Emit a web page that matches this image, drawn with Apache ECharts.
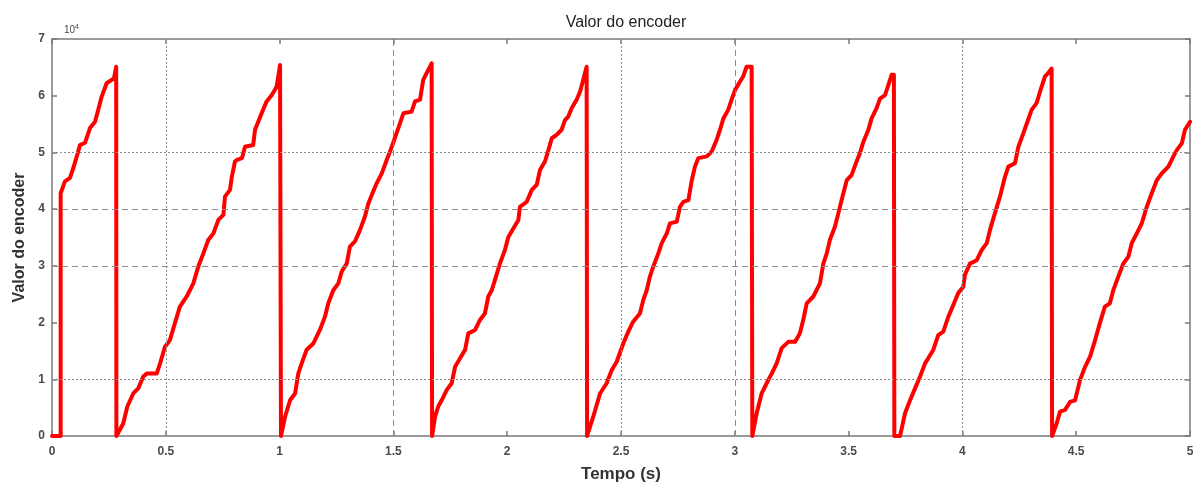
<!DOCTYPE html>
<html><head><meta charset="utf-8">
<script src="https://cdn.jsdelivr.net/npm/echarts@6/dist/echarts.min.js"></script>
<style>html,body{margin:0;padding:0;background:#fff}#c{width:1202px;height:492px}</style>
</head><body><div id="c"></div>
<script>
// time (s) and encoder value pairs
const tempo = [
0,0.038,0.038,0.057,0.079,0.094,0.109,0.123,0.145,0.167,0.189,0.203,0.218,0.240,0.262,0.272,0.282,
0.283,0.313,0.331,0.357,0.379,0.401,0.416,0.460,0.475,0.496,0.518,0.540,0.562,0.592,0.621,0.643,0.665,0.687,0.709,0.731,0.753,0.760,0.782,0.790,0.804,0.813,0.835,0.848,0.884,0.892,0.921,0.943,0.965,0.987,1.002,
1.006,1.024,1.046,1.068,1.082,1.097,1.119,1.148,1.177,1.199,1.214,1.236,1.258,1.273,1.295,1.309,1.331,1.353,1.375,1.390,1.405,1.427,1.449,1.471,1.493,1.514,1.544,1.580,1.595,1.617,1.631,1.646,1.668,
1.670,1.683,1.697,1.712,1.734,1.756,1.771,1.793,1.815,1.829,1.859,1.881,1.902,1.917,1.932,1.946,1.968,1.990,2.005,2.027,2.049,2.056,2.086,2.108,2.130,2.144,2.166,2.181,2.196,2.217,2.239,2.254,2.268,2.283,2.305,2.320,2.334,2.349,
2.351,2.378,2.408,2.437,2.459,2.481,2.510,2.532,2.554,2.583,2.598,2.613,2.627,2.642,2.664,2.679,2.701,2.715,2.745,2.759,2.774,2.796,2.811,2.825,2.840,2.877,2.899,2.920,2.935,2.950,2.971,2.986,3.001,3.023,3.037,3.052,3.074,
3.077,3.096,3.118,3.140,3.162,3.184,3.206,3.235,3.265,3.286,3.301,3.316,3.345,3.374,3.389,3.404,3.418,3.440,3.462,3.477,3.492,3.513,3.535,3.550,3.565,3.587,3.601,3.623,3.638,3.660,3.675,3.689,3.699,
3.701,3.726,3.748,3.770,3.792,3.814,3.836,3.850,3.872,3.894,3.916,3.938,3.960,3.982,4.004,4.011,4.033,4.063,4.085,4.107,4.121,4.143,4.165,4.187,4.202,4.231,4.246,4.268,4.283,4.304,4.326,4.341,4.363,4.377,4.392,
4.394,4.414,4.429,4.451,4.473,4.495,4.517,4.539,4.561,4.583,4.604,4.626,4.648,4.663,4.685,4.707,4.729,4.744,4.766,4.788,4.810,4.832,4.854,4.876,4.905,4.927,4.942,4.964,4.978,5.000
];
const encoder = [
0,0,42800,44900,45500,47300,49300,51300,51700,54300,55400,57500,59800,62200,62800,63000,65100,
0,2200,5200,7500,8400,10500,11000,11000,12800,15700,16900,19900,22800,24600,26900,29900,32200,34600,35700,38100,39000,42200,43400,45700,48400,48700,49000,51000,51300,54000,56900,59000,60100,61600,65400,
0,3400,6300,7500,11000,12800,15200,16300,18700,21000,23400,25700,26900,29000,30400,33400,34300,36300,38700,41000,42500,44600,46300,48700,51000,53400,56900,57200,59000,59300,62800,64000,65700,
0,3400,5200,6300,8100,9300,12200,13700,15200,18100,18700,20500,21600,24600,25700,27500,30400,32800,35100,36600,38100,40400,41300,43400,44300,46900,48400,50400,52500,53100,54000,55700,56300,57800,59300,60700,62800,65100,
0,3400,7500,9300,11600,13100,16300,18400,20200,21600,24000,25700,28100,29900,32200,34000,35700,37500,37800,40400,41300,41600,45100,47500,49000,49300,50200,52200,54000,56000,57500,59300,61000,62500,63400,65100,65100,
0,4000,7500,9300,11000,12800,15500,16600,16600,18100,20500,23400,24600,26900,30400,32200,34600,36900,40400,42800,45100,46000,48400,49900,51900,54000,56000,57800,59500,60100,61900,63700,63700,
0,0,4000,6300,8400,10500,12800,13700,15200,17800,18400,21000,23100,25200,26300,28400,30400,31000,32800,34000,36300,39300,42200,45700,47500,48100,51000,53400,55100,57500,58700,60700,63400,64000,64800,
0,2200,4300,4600,6000,6300,9900,12200,14000,16900,19900,22800,23400,25700,28100,30400,31600,34000,35700,37500,40400,42800,45100,46300,47500,49300,50400,51600,54000,55400
];
const xTicks = [0,0.5,1,1.5,2,2.5,3,3.5,4,4.5,5];
const yTicks = [0,10000,20000,30000,40000,50000,60000,70000];
const yGridDotted = [10000, 50000];
const yGridDashed = [30000, 40000];
const xGridDotted = [0.5, 2.5, 4];
const xGridDashed = [1.5, 3];

const pts = tempo.map((t,i)=>[t, encoder[i]]);
const gridCol = '#8c8c8c';
const ml = [];
yGridDotted.forEach(v=>ml.push({yAxis:v, lineStyle:{type:[2,2],color:gridCol,width:1}}));
yGridDashed.forEach(v=>ml.push({yAxis:v, lineStyle:{type:[6,4],color:gridCol,width:1}}));
xGridDotted.forEach(v=>ml.push({xAxis:v, lineStyle:{type:[2,2],color:gridCol,width:1}}));
xGridDashed.forEach(v=>ml.push({xAxis:v, lineStyle:{type:[6,4],color:gridCol,width:1}}));

const axCol = '#7a7a7a';
const font = 'Arial, Liberation Sans, sans-serif';
const lblStyle = {color:'#4a4a4a', fontFamily:font, fontSize:12, fontWeight:'bold'};
const chart = echarts.init(document.getElementById('c'), null, {renderer:'canvas'});
chart.setOption({
  animation:false,
  title:{text:'Valor do encoder', left:621, textAlign:'center', top:10,
    textStyle:{fontSize:16, fontWeight:'normal', color:'#222', fontFamily:font}},
  grid:{left:52, right:12, top:39, bottom:56, containLabel:false, outerBoundsMode:'none'},
  xAxis:[{type:'value', min:0, max:5, interval:0.5, position:'bottom',
    name:'Tempo (s)', nameLocation:'middle', nameGap:30,
    nameTextStyle:{fontSize:17, fontWeight:'bold', color:'#333', fontFamily:font},
    axisLine:{onZero:false, lineStyle:{color:axCol, width:1.5}},
    axisTick:{inside:true, length:5, lineStyle:{color:axCol, width:1.5}},
    axisLabel:Object.assign({margin:10, formatter:v=>String(v)}, lblStyle),
    splitLine:{show:false}},
   {type:'value', min:0, max:5, interval:0.5, position:'top',
    axisLine:{onZero:false, lineStyle:{color:axCol, width:1.5}},
    axisTick:{inside:true, length:5, lineStyle:{color:axCol, width:1.5}},
    axisLabel:{show:false}, splitLine:{show:false}}],
  yAxis:[{type:'value', min:0, max:70000, interval:10000, position:'left',
    name:'Valor do encoder', nameLocation:'middle', nameGap:22,
    nameTextStyle:{fontSize:16, fontWeight:'bold', color:'#333', fontFamily:font},
    axisLine:{show:true, onZero:false, lineStyle:{color:axCol, width:1.5}},
    axisTick:{show:true, inside:true, length:5, lineStyle:{color:axCol, width:1.5}},
    axisLabel:Object.assign({margin:7, formatter:v=>String(v/10000)}, lblStyle),
    splitLine:{show:false}},
   {type:'value', min:0, max:70000, interval:10000, position:'right',
    axisLine:{show:true, onZero:false, lineStyle:{color:axCol, width:1.5}},
    axisTick:{show:true, inside:true, length:5, lineStyle:{color:axCol, width:1.5}},
    axisLabel:{show:false}, splitLine:{show:false}}],
  graphic:[{type:'text', left:64, top:24, z:10,
    style:{text:'10{s|4}', rich:{s:{fontSize:7, verticalAlign:'top', padding:[0,0,6,0]}},
      fontSize:10, fill:'#4a4a4a', fontFamily:font}}],
  series:[
    {type:'line', data:[], z:1, silent:true,
     markLine:{silent:true, symbol:'none', label:{show:false}, data:ml, animation:false}},
    {type:'line', data:pts, z:3, showSymbol:false, symbol:'none',
     lineStyle:{color:'#ff0000', width:4, join:'round', cap:'round'}}
  ]
});
</script></body></html>
